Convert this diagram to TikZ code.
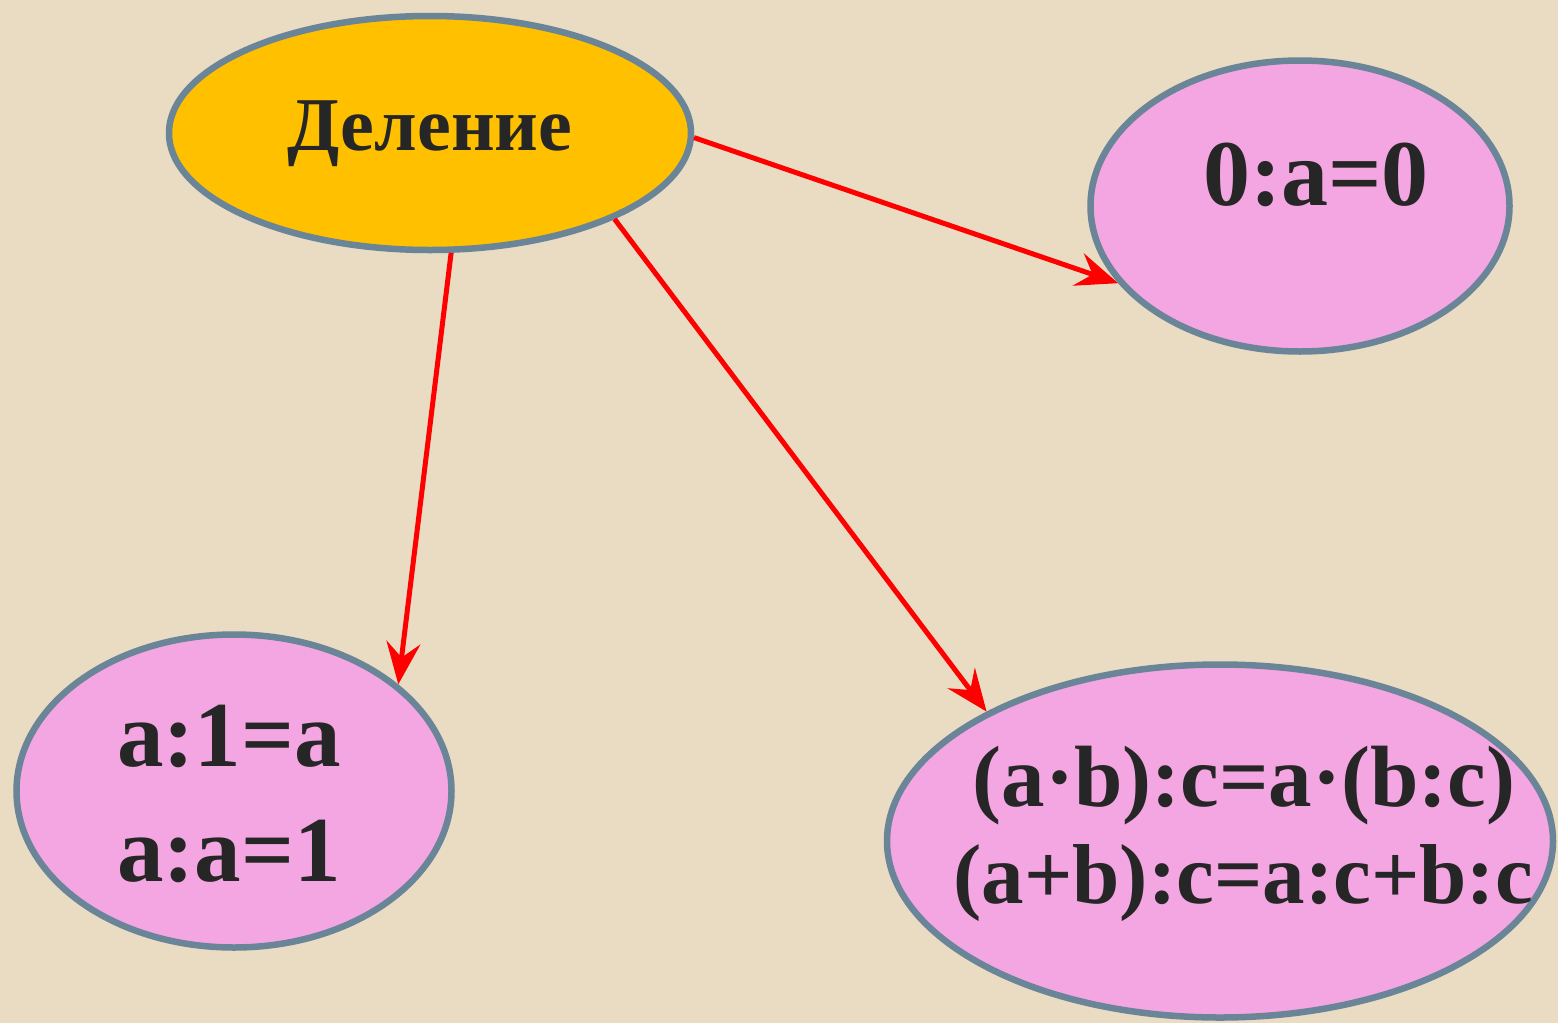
\documentclass[tikz,border=0pt]{standalone}
\usepackage{fontspec}
\setmainfont{Liberation Serif}
\usetikzlibrary{shapes.geometric,arrows.meta}
\definecolor{bgc}{RGB}{233,220,194}
\definecolor{goldc}{RGB}{255,192,0}
\definecolor{pinkc}{RGB}{244,166,226}
\definecolor{edgec}{RGB}{106,132,152}
\definecolor{txtc}{RGB}{38,38,38}
\definecolor{arrc}{RGB}{255,0,0}
\tikzset{
  oval/.style={ellipse, draw=edgec, line width=6.5pt, inner sep=0pt},
  topic/.style={oval, fill=goldc},
  rule/.style={oval, fill=pinkc},
  lbl/.style={text=txtc, inner sep=0pt, font=\bfseries},
  link/.style={draw=arrc, line width=5pt, -{Stealth[length=42pt,width=34pt,inset=15pt]}}
}
\begin{document}
\begin{tikzpicture}[x=1pt,y=-1pt]
\fill[bgc] (0,0) rectangle (1558,1023);
\useasboundingbox (0,0) rectangle (1558,1023);
\node[topic, minimum width=522pt, minimum height=234pt] (del) at (430,133) {};
\node[rule, minimum width=419pt, minimum height=291pt] (zero) at (1300,206) {};
\node[rule, minimum width=435pt, minimum height=313pt] (one) at (234,791) {};
\node[rule, minimum width=666pt, minimum height=353pt] (dist) at (1220,841) {};

\node[lbl, anchor=base, font=\bfseries\fontsize{76pt}{90pt}\selectfont] (tdel) at (430,150) {Деление};
\node[lbl, anchor=base, font=\bfseries\fontsize{94pt}{110pt}\selectfont] (tzero) at (1316,205) {0:a=0};
\node[lbl, anchor=base west, font=\bfseries\fontsize{93pt}{110pt}\selectfont] (tone1) at (117,766) {a:1=a};
\node[lbl, anchor=base west, font=\bfseries\fontsize{93pt}{110pt}\selectfont] (tone2) at (117,881) {a:a=1};
\node[lbl, anchor=base, font=\bfseries\fontsize{87pt}{100pt}\selectfont] (tdist1) at (1244,806) {(a·b):c=a·(b:c)};
\node[lbl, anchor=base, font=\bfseries\fontsize{85pt}{100pt}\selectfont] (tdist2) at (1243,903) {(a+b):c=a:c+b:c};

\draw[link] (del.-1) -- (zero.-157.5);
\draw[link] (del.-80) -- (one.33);
\draw[link] (del.-25) -- (dist.151.5);
\end{tikzpicture}
\end{document}
